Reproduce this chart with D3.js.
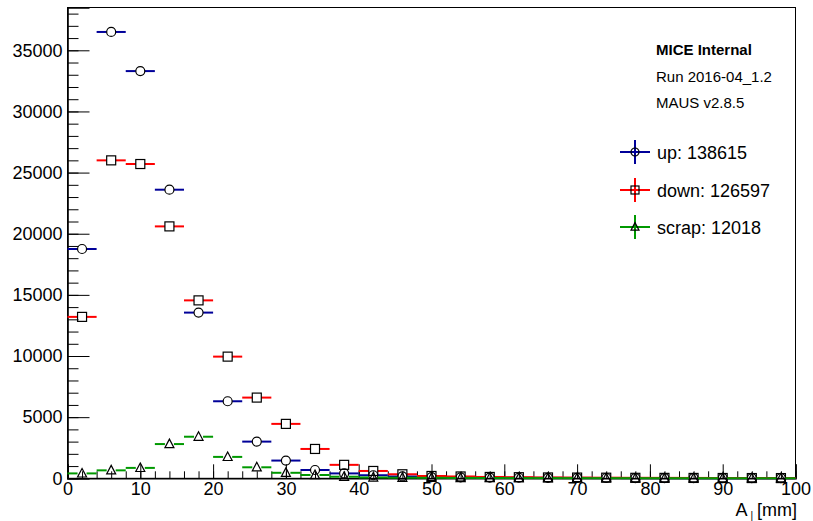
<!DOCTYPE html>
<html>
<head>
<meta charset="utf-8">
<script src="https://cdn.jsdelivr.net/npm/d3@7"></script>
<style>
  body { margin: 0; background: white; }
  svg { font-family: "Liberation Sans", Arial, sans-serif; }
</style>
</head>
<body>
<div id="chart"></div>
<script>
// Lower edges of the 4 mm bins
const binLow = [0, 4, 8, 12, 16, 20, 24, 28, 32, 36, 40, 44, 48, 52, 56, 60, 64, 68, 72, 76, 80, 84, 88, 92, 96];
const binWidth = 4;

// Counts per bin
const upCounts    = [18750, 36500, 33300, 23600, 13550, 6300, 3000, 1450, 680, 400, 250, 150, 100, 80, 60, 45, 35, 30, 25, 20, 15, 12, 10, 8, 6];
const downCounts  = [13200, 26000, 25700, 20600, 14550, 9950, 6600, 4450, 2400, 1100, 600, 330, 190, 150, 110, 90, 70, 60, 50, 40, 35, 30, 25, 20, 18];
const scrapCounts = [400, 650, 850, 2800, 3400, 1750, 900, 450, 270, 130, 70, 50, 40, 30, 25, 20, 18, 15, 12, 10, 8, 7, 6, 5, 5];

// Legend / info text
const seriesNames = ["up: 138615", "down: 126597", "scrap: 12018"];
const infoLines = ["MICE Internal", "Run 2016-04_1.2", "MAUS v2.8.5"];

const xTicks = [0, 10, 20, 30, 40, 50, 60, 70, 80, 90, 100];
const yTicks = [0, 5000, 10000, 15000, 20000, 25000, 30000, 35000];

// Set graph dimensions
var W = 813, H = 521;
var margin = {top: 7.5, right: 17.5, bottom: 42.7, left: 67.5},
    width = W - margin.left - margin.right,
    height = H - margin.top - margin.bottom;

const svg = d3.select('#chart')
  .append('svg')
    .attr('width', W)
    .attr('height', H)
  .append("g")
    .attr("transform", "translate(" + margin.left + "," + margin.top + ")");

var x = d3.scaleLinear().domain([0, 100]).range([0, width]);
var y = d3.scaleLinear().domain([0, 38500]).range([height, 0]);

// frame
svg.append("rect")
  .attr("width", width).attr("height", height)
  .attr("fill", "none").attr("stroke", "#000").attr("stroke-width", 1);

// Y axis, ticks pointing inward like ROOT
svg.append("g")
  .call(d3.axisLeft(y).tickValues(d3.range(0, 38001, 1000)).tickSize(-11).tickFormat(""))
  .call(g => g.select(".domain").remove());
svg.append("g")
  .call(d3.axisLeft(y).tickValues(yTicks).tickSize(-22).tickPadding(5).tickFormat(d3.format("d")))
  .call(g => g.select(".domain").attr("stroke-width", 1.6))
  .selectAll("text").attr("font-size", 18).attr("fill", "#000").attr("font-family", "Liberation Sans, Arial, sans-serif");

// X axis
svg.append("g")
  .attr("transform", "translate(0," + height + ")")
  .call(d3.axisBottom(x).tickValues(d3.range(0, 101, 2)).tickSize(-7).tickFormat(""))
  .call(g => g.select(".domain").remove());
svg.append("g")
  .attr("transform", "translate(0," + height + ")")
  .call(d3.axisBottom(x).tickValues(xTicks).tickSize(-14).tickPadding(4).tickFormat(d3.format("d")))
  .call(g => g.select(".domain").attr("stroke-width", 1.6))
  .selectAll("text").attr("font-size", 18).attr("fill", "#000").attr("font-family", "Liberation Sans, Arial, sans-serif");

// axis title
const title = svg.append("text")
  .attr("x", width + 1.5).attr("y", 516 - margin.top)
  .attr("text-anchor", "end").attr("font-size", 18);
title.append("tspan").text("A");
title.append("tspan").attr("font-size", 10).attr("dy", 3).attr("dx", 3).text("|");
title.append("tspan").attr("dy", -3).attr("dx", 4).text("[mm]");

const r = 4.5;

function marker(g, shape, cx, cy, s) {
  if (shape == "circle") {
    g.append("circle").attr("cx", cx).attr("cy", cy).attr("r", s)
      .attr("fill", "none").attr("stroke", "#000").attr("stroke-width", 1.2);
  } else if (shape == "square") {
    g.append("rect").attr("x", cx - s).attr("y", cy - s).attr("width", 2 * s).attr("height", 2 * s)
      .attr("fill", "none").attr("stroke", "#000").attr("stroke-width", 1.2);
  } else {
    g.append("path")
      .attr("d", "M" + cx + "," + (cy - s * 1.1) + "L" + (cx + s) + "," + (cy + s * 0.8) + "L" + (cx - s) + "," + (cy + s * 0.8) + "Z")
      .attr("fill", "none").attr("stroke", "#000").attr("stroke-width", 1.2);
  }
}

function drawSeries(counts, color, shape) {
  const g = svg.append("g");
  counts.forEach(function(v, i) {
    const cx = x(binLow[i] + binWidth / 2), cy = y(v);
    const err = Math.sqrt(v);
    // horizontal bars leave a gap for the marker
    g.append("line").attr("x1", x(binLow[i])).attr("x2", cx - r).attr("y1", cy).attr("y2", cy)
      .attr("stroke", color).attr("stroke-width", 2);
    g.append("line").attr("x1", cx + r).attr("x2", x(binLow[i] + binWidth)).attr("y1", cy).attr("y2", cy)
      .attr("stroke", color).attr("stroke-width", 2);
    // vertical error bars, only outside the marker
    if (y(v - err) - cy > r) {
      g.append("line").attr("x1", cx).attr("x2", cx).attr("y1", cy + r).attr("y2", y(v - err))
        .attr("stroke", color).attr("stroke-width", 2);
      g.append("line").attr("x1", cx).attr("x2", cx).attr("y1", cy - r).attr("y2", y(v + err))
        .attr("stroke", color).attr("stroke-width", 2);
    }
    marker(g, shape, cx, cy, r);
  });
}

const colors = ["#000099", "#ff0000", "#009900"];
const shapes = ["circle", "square", "triangle"];
drawSeries(upCounts, colors[0], shapes[0]);
drawSeries(downCounts, colors[1], shapes[1]);
drawSeries(scrapCounts, colors[2], shapes[2]);

// info text
const infoY = [55, 82, 108];
infoLines.forEach(function(t, i) {
  svg.append("text").attr("x", 656 - margin.left).attr("y", infoY[i] - margin.top)
    .attr("font-size", 15).attr("font-weight", i == 0 ? "bold" : "normal").text(t);
});

// legend
const legY = [152, 190, 227];
seriesNames.forEach(function(t, i) {
  const lg = svg.append("g").attr("transform", "translate(" + (635 - margin.left) + "," + (legY[i] - margin.top) + ")");
  lg.append("line").attr("x1", -15).attr("x2", 15).attr("stroke", colors[i]).attr("stroke-width", 2);
  lg.append("line").attr("y1", -12).attr("y2", 12).attr("stroke", colors[i]).attr("stroke-width", 2);
  marker(lg, shapes[i], 0, 0, 4);
  lg.append("text").attr("x", 22).attr("y", 6.5).attr("font-size", 18).text(t);
});
</script>
</body>
</html>
